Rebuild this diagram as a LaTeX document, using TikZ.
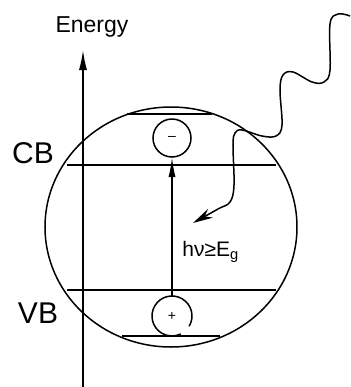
\documentclass[tikz,border=0pt]{standalone}
\usepackage{fontspec}
\setmainfont{Liberation Sans}
\usetikzlibrary{arrows.meta}
\newcommand{\Eg}{E\textsubscript{g}}

\begin{document}
\begin{tikzpicture}[x=0.5pt, y=-0.5pt, line width=0.75pt,
    every node/.style={font=\fontsize{10.5}{12}\selectfont},
    band/.style={font=\fontsize{15}{17}\selectfont},
    carrier/.style={circle, inner sep=0pt, outer sep=0pt, minimum size=19pt, font=\fontsize{7}{8}\selectfont}]
    \useasboundingbox (0,0) rectangle (350,387);
    % energy axis
    \coordinate (E0) at (83,387);
    \coordinate (E1) at (83,50);
    \draw[-{Latex[length=10pt,width=4pt]}] (E0) -- (E1);
    \node[font=\fontsize{11.5}{13}\selectfont] (energy) at (92,27) {Energy};
    % grain with bands
    \draw (171,227) ellipse [x radius=63pt, y radius=60pt];
    \draw (127,114) -- (212,114);
    \draw (67,165) -- (276,165);
    \draw (67,290) -- (276,290);
    \draw (122,336) -- (220,336);
    \node[band] (cb) at (33,153) {CB};
    \node[band] (vb) at (38,313) {VB};
    % electron and hole
    \node[carrier, draw] (electron) at (172,138) {--};
    \node[carrier, minimum size=20pt] (hole) at (172,316) {+};
    \draw (hole.-31) arc [start angle=-31, end angle=296, radius=10pt];
    \draw[-{Latex[length=10pt,width=3.5pt]}] (hole) -- (electron);
    \node[anchor=west] (gap) at (175,252) {hν≥\Eg};
    % incoming photon
    \draw[-{Stealth[length=10pt,width=5pt]}] plot[smooth, tension=0.6] coordinates {
        (350,16) (338,14) (330,24) (330,70) (324,82) (312,82) (293,72) (283,75)
        (280,90) (282,125) (276,136) (262,136) (242,130) (235,133) (233,145)
        (234,185) (230,202) (218,209) (193,223)};
\end{tikzpicture}
\end{document}
